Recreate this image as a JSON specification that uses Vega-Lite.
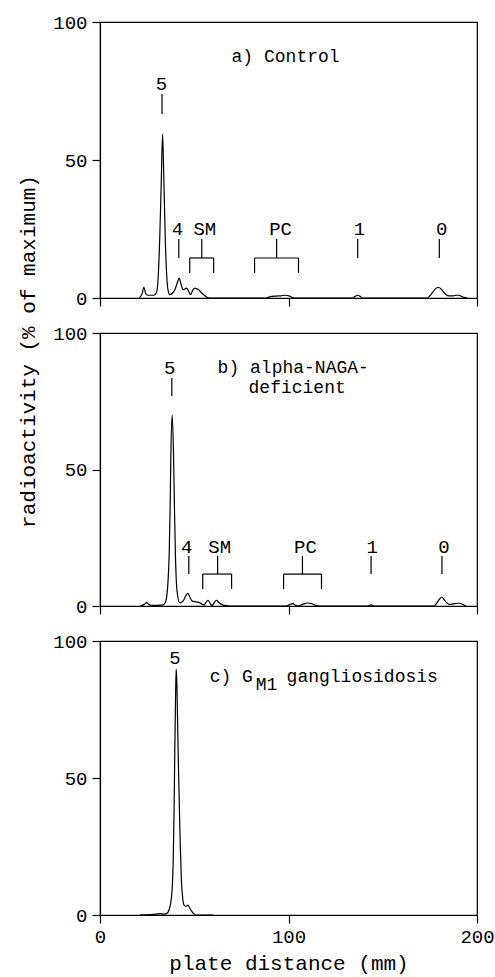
{
  "$schema": "https://vega.github.io/schema/vega-lite/v6.json",
  "padding": {"left": 16, "top": 12, "right": 5, "bottom": 0},
  "bounds": "flush",
  "spacing": 35,
  "config": {
    "font": "Liberation Mono",
    "view": {"stroke": "black", "strokeWidth": 1.2},
    "axis": {
      "domainColor": "black", "domainWidth": 1.2,
      "tickColor": "black", "tickWidth": 1.2, "tickSize": 8,
      "labelColor": "black", "labelFont": "Liberation Mono", "labelFontSize": 19,
      "labelFlush": false, "labelOverlap": false,
      "titleFont": "Liberation Mono", "titleColor": "black", "titleFontWeight": "normal",
      "grid": false
    }
  },
  "datasets": {
    "curveA": [
      {"mm": 20.8, "pct": 0}, {"mm": 22.3, "pct": 1.5}, {"mm": 23.3, "pct": 3.9}, {"mm": 24.3, "pct": 1.5},
      {"mm": 25.6, "pct": 1.0}, {"mm": 28.6, "pct": 1.0}, {"mm": 30.0, "pct": 2}, {"mm": 30.9, "pct": 8},
      {"mm": 31.7, "pct": 22}, {"mm": 32.5, "pct": 42}, {"mm": 33.2, "pct": 59.4}, {"mm": 33.9, "pct": 42},
      {"mm": 34.6, "pct": 22}, {"mm": 35.4, "pct": 8}, {"mm": 36.2, "pct": 2.5}, {"mm": 37.0, "pct": 1.2},
      {"mm": 38.5, "pct": 1.8}, {"mm": 39.7, "pct": 3}, {"mm": 41.0, "pct": 5.5}, {"mm": 42.0, "pct": 7.2},
      {"mm": 43.0, "pct": 5}, {"mm": 44.1, "pct": 3}, {"mm": 45.2, "pct": 3.3}, {"mm": 45.9, "pct": 3.6},
      {"mm": 47.0, "pct": 2.5}, {"mm": 48.0, "pct": 1.2}, {"mm": 49.2, "pct": 2.8}, {"mm": 50.3, "pct": 3.6},
      {"mm": 51.4, "pct": 3.3}, {"mm": 52.4, "pct": 3.0}, {"mm": 53.7, "pct": 2.0}, {"mm": 55.0, "pct": 1.2},
      {"mm": 56.5, "pct": 0.4}, {"mm": 58.2, "pct": 0}, {"mm": 61.7, "pct": 0}, {"mm": 88.2, "pct": 0},
      {"mm": 90.0, "pct": 0.4}, {"mm": 93.5, "pct": 0.7}, {"mm": 96.0, "pct": 0.8}, {"mm": 97.9, "pct": 1.0},
      {"mm": 99.5, "pct": 0.9}, {"mm": 100.5, "pct": 0.7}, {"mm": 103.2, "pct": 0}, {"mm": 134.0, "pct": 0},
      {"mm": 135.4, "pct": 0.6}, {"mm": 136.7, "pct": 1.0}, {"mm": 138.0, "pct": 0.6}, {"mm": 139.3, "pct": 0},
      {"mm": 173.7, "pct": 0}, {"mm": 175.2, "pct": 1}, {"mm": 176.4, "pct": 2}, {"mm": 177.8, "pct": 3.2},
      {"mm": 179.5, "pct": 3.9}, {"mm": 181.0, "pct": 3.2}, {"mm": 182.5, "pct": 2}, {"mm": 183.8, "pct": 1.1},
      {"mm": 185.2, "pct": 0.8}, {"mm": 187.5, "pct": 0.8}, {"mm": 189.0, "pct": 1.0}, {"mm": 190.1, "pct": 1.0},
      {"mm": 191.5, "pct": 0.7}, {"mm": 193.1, "pct": 0.2}, {"mm": 195.0, "pct": 0}
    ],
    "curveB": [
      {"mm": 21.2, "pct": 0}, {"mm": 23.5, "pct": 0.6}, {"mm": 24.7, "pct": 1.2}, {"mm": 26.0, "pct": 0.6},
      {"mm": 27.3, "pct": 0.2}, {"mm": 33.5, "pct": 0.4}, {"mm": 34.6, "pct": 1.2}, {"mm": 35.3, "pct": 3},
      {"mm": 36.0, "pct": 8}, {"mm": 36.7, "pct": 19}, {"mm": 37.2, "pct": 36}, {"mm": 37.6, "pct": 55.6},
      {"mm": 38.3, "pct": 70}, {"mm": 39.0, "pct": 55.6}, {"mm": 39.5, "pct": 36}, {"mm": 40.0, "pct": 19},
      {"mm": 40.5, "pct": 9}, {"mm": 41.1, "pct": 4.3}, {"mm": 42.3, "pct": 1.2}, {"mm": 43.5, "pct": 1.5},
      {"mm": 44.6, "pct": 2.4}, {"mm": 45.7, "pct": 4}, {"mm": 46.7, "pct": 4.6}, {"mm": 47.8, "pct": 3},
      {"mm": 49.0, "pct": 1.8}, {"mm": 51.0, "pct": 1.5}, {"mm": 52.9, "pct": 1.2}, {"mm": 54.2, "pct": 0.6},
      {"mm": 55.2, "pct": 0.4}, {"mm": 56.3, "pct": 1.4}, {"mm": 57.3, "pct": 2.1}, {"mm": 58.4, "pct": 1.0},
      {"mm": 59.4, "pct": 0.2}, {"mm": 60.6, "pct": 1.2}, {"mm": 61.7, "pct": 2.1}, {"mm": 63.0, "pct": 1.3},
      {"mm": 64.4, "pct": 0.6}, {"mm": 66.5, "pct": 0.2}, {"mm": 68.8, "pct": 0}, {"mm": 98.8, "pct": 0},
      {"mm": 100.5, "pct": 0.5}, {"mm": 102.3, "pct": 0.9}, {"mm": 103.7, "pct": 0.3}, {"mm": 104.9, "pct": 0},
      {"mm": 107.5, "pct": 0.6}, {"mm": 110.2, "pct": 1.1}, {"mm": 112.0, "pct": 0.9}, {"mm": 113.8, "pct": 0.4},
      {"mm": 116.4, "pct": 0}, {"mm": 142.0, "pct": 0}, {"mm": 143.7, "pct": 0.4}, {"mm": 145.4, "pct": 0},
      {"mm": 177.2, "pct": 0}, {"mm": 178.6, "pct": 1}, {"mm": 180.0, "pct": 2.4}, {"mm": 181.3, "pct": 3.3},
      {"mm": 182.6, "pct": 2.3}, {"mm": 184.0, "pct": 1.2}, {"mm": 185.2, "pct": 0.6}, {"mm": 187.5, "pct": 0.8},
      {"mm": 190.5, "pct": 1.0}, {"mm": 192.4, "pct": 0.6}, {"mm": 194.0, "pct": 0}
    ],
    "curveC": [
      {"mm": 21.2, "pct": 0}, {"mm": 28.0, "pct": 0.2}, {"mm": 31.7, "pct": 0.5}, {"mm": 33.5, "pct": 0.3},
      {"mm": 35.3, "pct": 0.5}, {"mm": 36.7, "pct": 2}, {"mm": 37.9, "pct": 6.3}, {"mm": 38.4, "pct": 11},
      {"mm": 38.8, "pct": 18.5}, {"mm": 39.3, "pct": 38}, {"mm": 39.7, "pct": 61}, {"mm": 40.1, "pct": 80},
      {"mm": 40.4, "pct": 89.7}, {"mm": 40.8, "pct": 84}, {"mm": 41.1, "pct": 73}, {"mm": 41.5, "pct": 58},
      {"mm": 42.0, "pct": 42.8}, {"mm": 42.6, "pct": 25}, {"mm": 43.2, "pct": 12.4}, {"mm": 43.9, "pct": 6},
      {"mm": 44.6, "pct": 3.6}, {"mm": 45.6, "pct": 3.2}, {"mm": 46.7, "pct": 3.6}, {"mm": 47.6, "pct": 2.5},
      {"mm": 48.5, "pct": 1.5}, {"mm": 49.7, "pct": 0.5}, {"mm": 50.8, "pct": 0}, {"mm": 60.0, "pct": 0}
    ],
    "rulesA": [
      {"mm": 32.9, "mm2": 32.9, "pct": 73.9, "pct2": 66.7},
      {"mm": 41.8, "mm2": 41.8, "pct": 21.4, "pct2": 14.5},
      {"mm": 54.0, "mm2": 54.0, "pct": 21.4, "pct2": 14.5},
      {"mm": 47.6, "mm2": 60.3, "pct": 14.5, "pct2": 14.5},
      {"mm": 47.6, "mm2": 47.6, "pct": 14.5, "pct2": 9.1},
      {"mm": 60.3, "mm2": 60.3, "pct": 14.5, "pct2": 9.1},
      {"mm": 93.7, "mm2": 93.7, "pct": 21.4, "pct2": 14.5},
      {"mm": 82.0, "mm2": 105.3, "pct": 14.5, "pct2": 14.5},
      {"mm": 82.0, "mm2": 82.0, "pct": 14.5, "pct2": 9.1},
      {"mm": 105.3, "mm2": 105.3, "pct": 14.5, "pct2": 9.1},
      {"mm": 136.7, "mm2": 136.7, "pct": 21.4, "pct2": 14.5},
      {"mm": 180.0, "mm2": 180.0, "pct": 21.4, "pct2": 14.5}
    ],
    "rulesB": [
      {"mm": 38.1, "mm2": 38.1, "pct": 83.5, "pct2": 76.9},
      {"mm": 47.1, "mm2": 47.1, "pct": 18.3, "pct2": 11.7},
      {"mm": 62.4, "mm2": 62.4, "pct": 18.3, "pct2": 11.7},
      {"mm": 54.5, "mm2": 69.8, "pct": 11.7, "pct2": 11.7},
      {"mm": 54.5, "mm2": 54.5, "pct": 11.7, "pct2": 6.2},
      {"mm": 69.8, "mm2": 69.8, "pct": 11.7, "pct2": 6.2},
      {"mm": 107.4, "mm2": 107.4, "pct": 18.3, "pct2": 11.7},
      {"mm": 97.4, "mm2": 117.5, "pct": 11.7, "pct2": 11.7},
      {"mm": 97.4, "mm2": 97.4, "pct": 11.7, "pct2": 6.2},
      {"mm": 117.5, "mm2": 117.5, "pct": 11.7, "pct2": 6.2},
      {"mm": 143.8, "mm2": 143.8, "pct": 18.3, "pct2": 11.7},
      {"mm": 181.4, "mm2": 181.4, "pct": 18.3, "pct2": 11.7}
    ],
    "labelsA": [
      {"mm": 32.6, "pct": 77.5, "label": "5"},
      {"mm": 41.1, "pct": 25.0, "label": "4"},
      {"mm": 55.6, "pct": 25.0, "label": "SM"},
      {"mm": 95.8, "pct": 25.0, "label": "PC"},
      {"mm": 137.6, "pct": 25.0, "label": "1"},
      {"mm": 181.3, "pct": 25.0, "label": "0"}
    ],
    "labelsB": [
      {"mm": 37.0, "pct": 87.2, "label": "5"},
      {"mm": 46.0, "pct": 21.6, "label": "4"},
      {"mm": 63.5, "pct": 21.6, "label": "SM"},
      {"mm": 109.0, "pct": 21.6, "label": "PC"},
      {"mm": 144.4, "pct": 21.6, "label": "1"},
      {"mm": 182.5, "pct": 21.6, "label": "0"}
    ],
    "labelsC": [
      {"mm": 39.7, "pct": 93.8, "label": "5"}
    ],
    "titleA": [
      {"mm": 69.8, "pct": 87.3, "label": "a) Control"}
    ],
    "titleB": [
      {"mm": 62.4, "pct": 87.2, "label": "b) alpha-NAGA-"},
      {"mm": 78.8, "pct": 79.9, "label": "deficient"}
    ],
    "titleC": [
      {"mm": 58.2, "pct": 87.0, "label": "c) G"},
      {"mm": 82.6, "pct": 84.1, "label": "M1"},
      {"mm": 99.0, "pct": 87.0, "label": "gangliosidosis"}
    ]
  },
  "vconcat": [
    {
      "width": 377, "height": 276,
      "layer": [
        {
          "data": {"name": "curveA"},
          "mark": {"type": "line", "color": "black", "strokeWidth": 1.2, "interpolate": "monotone"},
          "encoding": {
            "x": {"field": "mm", "type": "quantitative", "scale": {"domain": [0, 200]},
                  "axis": {"values": [0, 100, 200], "labels": false, "title": null}},
            "y": {"field": "pct", "type": "quantitative", "scale": {"domain": [0, 100]},
                  "axis": {"values": [0, 50, 100], "title": null, "labelPadding": 5}}
          }
        },
        {
          "data": {"name": "rulesA"},
          "mark": {"type": "rule", "color": "black", "strokeWidth": 1.2},
          "encoding": {
            "x": {"field": "mm", "type": "quantitative"}, "x2": {"field": "mm2"},
            "y": {"field": "pct", "type": "quantitative"}, "y2": {"field": "pct2"}
          }
        },
        {
          "data": {"name": "labelsA"},
          "mark": {"type": "text", "font": "Liberation Mono", "fontSize": 19, "color": "black", "align": "center", "baseline": "middle"},
          "encoding": {
            "x": {"field": "mm", "type": "quantitative"},
            "y": {"field": "pct", "type": "quantitative"},
            "text": {"field": "label"}
          }
        },
        {
          "data": {"name": "titleA"},
          "mark": {"type": "text", "font": "Liberation Mono", "fontSize": 18, "color": "black", "align": "left", "baseline": "middle"},
          "encoding": {
            "x": {"field": "mm", "type": "quantitative"},
            "y": {"field": "pct", "type": "quantitative"},
            "text": {"field": "label"}
          }
        }
      ]
    },
    {
      "width": 377, "height": 273,
      "layer": [
        {
          "data": {"name": "curveB"},
          "mark": {"type": "line", "color": "black", "strokeWidth": 1.2, "interpolate": "monotone"},
          "encoding": {
            "x": {"field": "mm", "type": "quantitative", "scale": {"domain": [0, 200]},
                  "axis": {"values": [0, 100, 200], "labels": false, "title": null}},
            "y": {"field": "pct", "type": "quantitative", "scale": {"domain": [0, 100]},
                  "axis": {"values": [0, 50, 100], "labelPadding": 5,
                           "title": "radioactivity (% of maximum)", "titleFontSize": 21,
                           "titleX": -72, "titleY": 18, "titleAngle": 270,
                           "titleAlign": "center", "titleBaseline": "middle"}}
          }
        },
        {
          "data": {"name": "rulesB"},
          "mark": {"type": "rule", "color": "black", "strokeWidth": 1.2},
          "encoding": {
            "x": {"field": "mm", "type": "quantitative"}, "x2": {"field": "mm2"},
            "y": {"field": "pct", "type": "quantitative"}, "y2": {"field": "pct2"}
          }
        },
        {
          "data": {"name": "labelsB"},
          "mark": {"type": "text", "font": "Liberation Mono", "fontSize": 19, "color": "black", "align": "center", "baseline": "middle"},
          "encoding": {
            "x": {"field": "mm", "type": "quantitative"},
            "y": {"field": "pct", "type": "quantitative"},
            "text": {"field": "label"}
          }
        },
        {
          "data": {"name": "titleB"},
          "mark": {"type": "text", "font": "Liberation Mono", "fontSize": 18, "color": "black", "align": "left", "baseline": "middle"},
          "encoding": {
            "x": {"field": "mm", "type": "quantitative"},
            "y": {"field": "pct", "type": "quantitative"},
            "text": {"field": "label"}
          }
        }
      ]
    },
    {
      "width": 377, "height": 274,
      "layer": [
        {
          "data": {"name": "curveC"},
          "mark": {"type": "line", "color": "black", "strokeWidth": 1.2, "interpolate": "monotone"},
          "encoding": {
            "x": {"field": "mm", "type": "quantitative", "scale": {"domain": [0, 200]},
                  "axis": {"values": [0, 100, 200], "title": "plate distance (mm)", "titleFontSize": 21,
                           "labelPadding": 4, "titlePadding": 6}},
            "y": {"field": "pct", "type": "quantitative", "scale": {"domain": [0, 100]},
                  "axis": {"values": [0, 50, 100], "title": null, "labelPadding": 5}}
          }
        },
        {
          "data": {"name": "labelsC"},
          "mark": {"type": "text", "font": "Liberation Mono", "fontSize": 19, "color": "black", "align": "center", "baseline": "middle"},
          "encoding": {
            "x": {"field": "mm", "type": "quantitative"},
            "y": {"field": "pct", "type": "quantitative"},
            "text": {"field": "label"}
          }
        },
        {
          "data": {"name": "titleC"},
          "mark": {"type": "text", "font": "Liberation Mono", "fontSize": 18, "color": "black", "align": "left", "baseline": "middle"},
          "encoding": {
            "x": {"field": "mm", "type": "quantitative"},
            "y": {"field": "pct", "type": "quantitative"},
            "text": {"field": "label"}
          }
        }
      ]
    }
  ]
}
